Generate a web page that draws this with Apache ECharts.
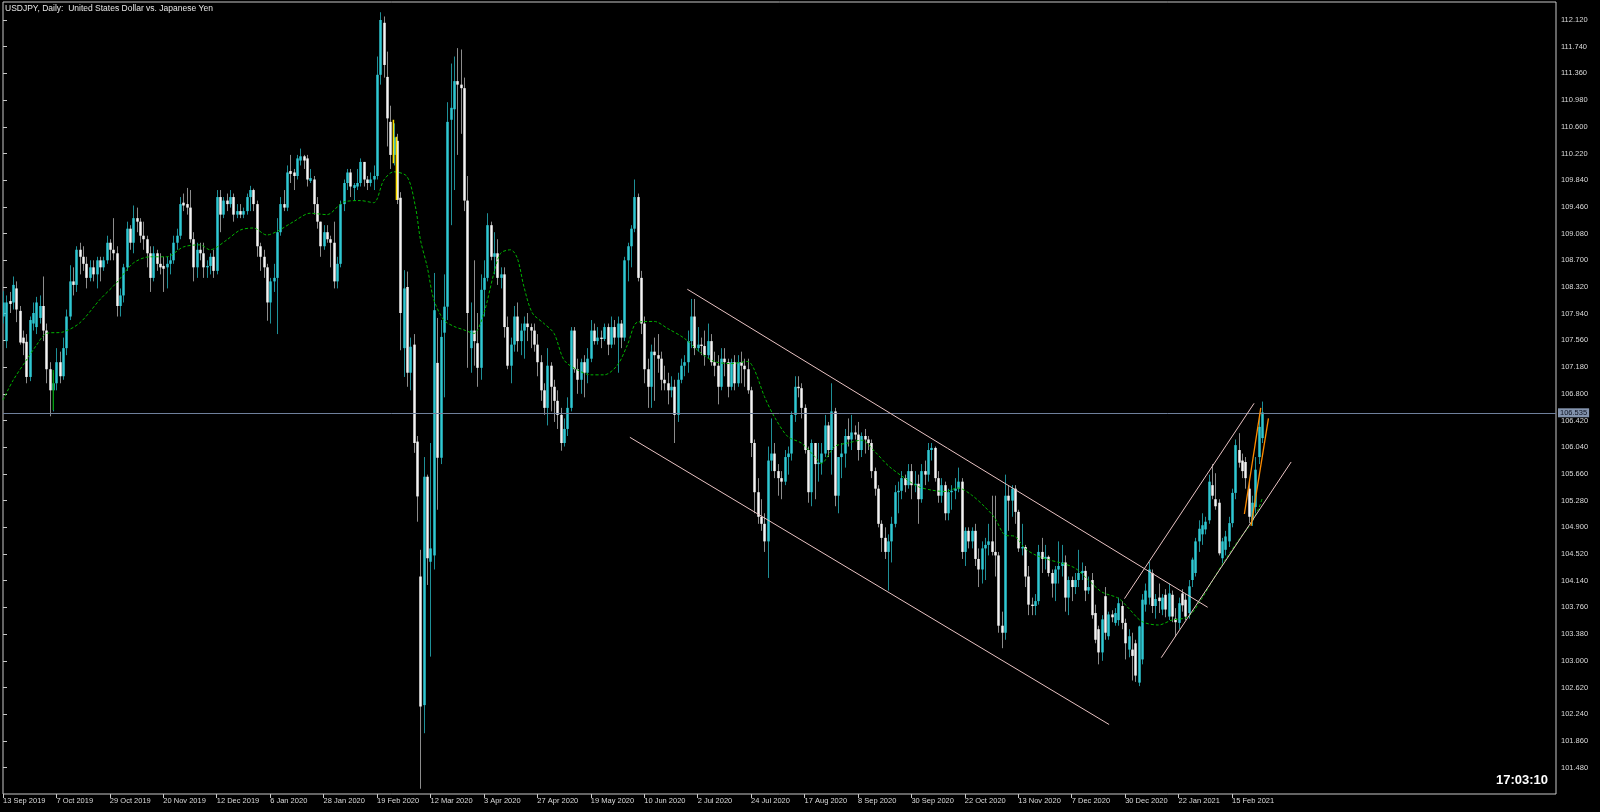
<!DOCTYPE html>
<html><head><meta charset="utf-8">
<script src="https://cdn.jsdelivr.net/npm/echarts@6/dist/echarts.min.js"></script>
<style>html,body{margin:0;padding:0;background:#000;}#c{width:1600px;height:812px;}</style>
</head><body><div id="c"></div>
<script>
// ---- data (daily USDJPY candles, 13 Sep 2019 .. 26 Feb 2021) ----
const opens = [
107.90,107.55,108.12,108.10,108.30,107.98,107.60,107.54,107.04,107.80,107.75,107.88,108.05,107.70,107.15,106.85,
106.95,107.25,107.05,107.45,107.90,108.40,108.35,108.85,108.75,108.65,108.45,108.60,108.50,108.70,108.60,108.70,
108.95,108.85,108.80,108.05,108.20,108.60,109.15,108.95,109.30,109.25,109.05,109.00,108.80,108.45,108.80,108.65,
108.62,108.60,108.65,108.70,108.95,109.05,109.52,109.50,109.45,109.00,108.60,108.85,108.80,108.60,108.62,108.75,
108.55,109.60,109.35,109.55,109.50,109.60,109.35,109.40,109.35,109.40,109.60,109.70,109.50,108.90,108.75,108.60,
108.10,108.40,108.45,109.10,109.50,109.45,109.97,109.95,109.90,110.12,110.18,110.15,109.83,109.85,109.50,109.25,
108.90,109.10,109.00,108.95,108.40,108.65,109.50,109.80,109.95,109.73,109.75,109.80,110.10,109.85,109.80,109.85,
109.90,111.34,112.08,111.31,110.67,110.20,110.40,109.59,107.45,108.32,107.10,107.50,106.12,104.20,102.37,105.62,
104.41,104.50,107.24,105.89,107.67,108.04,110.70,110.85,111.25,111.20,111.15,109.55,107.45,107.70,107.52,107.17,
108.28,108.45,109.20,108.75,108.80,108.45,108.50,107.75,107.20,107.50,107.90,107.55,107.70,107.80,107.75,107.70,
107.50,107.25,106.85,106.60,107.20,106.90,106.70,106.50,106.10,106.30,106.60,107.70,107.15,107.00,107.25,107.10,
107.30,107.70,107.55,107.60,107.58,107.75,107.50,107.75,107.60,107.80,107.60,108.70,108.90,109.15,109.60,108.45,
107.80,107.15,106.90,107.40,107.35,107.30,107.00,106.95,106.85,106.90,106.50,107.00,107.20,107.25,107.55,107.90,
107.45,107.50,107.48,107.35,107.55,107.25,107.20,106.90,107.30,107.25,106.90,107.25,106.95,107.25,107.20,107.15,
106.85,106.10,105.40,105.05,104.95,104.70,105.85,105.95,105.70,105.60,105.55,105.90,105.95,106.50,106.90,106.88,
106.60,106.00,105.40,106.10,105.80,105.82,105.95,106.35,106.00,106.55,105.35,105.90,105.95,106.20,106.15,106.25,
106.22,106.00,106.20,106.15,106.10,105.70,105.45,104.95,104.75,104.55,104.70,104.95,105.40,105.42,105.60,105.50,
105.70,105.50,105.52,105.30,105.70,105.65,106.00,106.03,105.60,105.35,105.50,105.10,105.40,105.42,105.45,105.55,
104.55,104.85,104.70,104.85,104.45,104.30,104.60,104.65,104.70,104.55,104.50,103.50,103.40,105.35,105.28,105.45,
105.12,104.60,104.62,104.20,103.80,103.78,103.85,104.55,104.45,104.48,104.25,104.10,104.30,104.35,104.40,103.90,
104.15,104.05,104.15,104.25,104.28,104.00,104.15,103.68,103.45,103.12,103.92,103.35,103.66,103.54,103.58,103.78,
103.54,103.16,103.16,103.25,102.69,103.02,103.80,103.90,104.25,103.78,103.90,103.73,103.94,103.63,103.94,103.60,
103.54,103.96,103.87,103.68,104.15,104.25,104.70,104.80,104.87,105.00,105.50,105.30,105.25,104.46,104.58,104.70,
104.96,105.39,106.00,105.85,105.83,105.45,105.00,105.19,105.90,106.17];
const highs = [
108.26,108.20,108.25,108.47,108.40,108.05,107.70,107.65,107.90,108.10,108.18,108.20,108.47,107.80,107.25,107.10,
107.45,107.40,107.60,108.00,108.63,108.60,108.90,108.95,108.90,108.75,108.70,108.70,108.75,108.75,108.75,109.05,
109.00,109.30,108.90,108.30,108.65,109.25,109.20,109.48,109.45,109.30,109.25,109.05,108.90,108.90,108.85,108.80,
108.75,108.75,108.80,109.05,109.15,109.60,109.65,109.73,109.70,109.10,108.95,108.95,108.95,108.70,108.80,108.85,
109.70,109.70,109.60,109.65,109.70,109.65,109.50,109.50,109.45,109.65,109.76,109.72,109.55,108.95,108.85,108.65,
108.45,108.65,109.30,109.60,109.70,110.05,110.20,110.00,110.20,110.29,110.20,110.20,110.00,109.90,109.60,109.25,
109.20,109.20,109.05,109.25,108.75,109.55,109.85,110.00,110.00,109.80,110.00,110.15,110.10,109.90,109.95,110.05,
111.60,112.23,112.17,111.67,110.90,110.65,110.50,109.67,108.56,108.54,107.60,107.65,106.20,104.58,105.90,105.65,
106.10,108.52,107.88,107.85,108.50,110.95,111.50,111.60,111.72,111.70,111.30,109.90,108.10,108.70,107.95,108.50,
108.70,109.37,109.25,109.10,109.00,108.60,108.60,107.90,107.60,108.05,108.10,107.80,107.90,107.95,107.80,107.80,
107.65,107.35,106.95,107.45,107.25,107.00,106.85,106.60,106.45,106.75,107.75,107.75,107.30,107.30,107.35,107.45,
107.85,107.80,107.75,107.70,107.80,107.80,107.90,107.85,107.90,107.85,108.75,108.95,109.20,109.85,109.65,108.55,
107.90,107.30,107.50,107.60,107.65,107.40,107.20,107.10,107.05,107.00,107.10,107.30,107.35,107.70,108.15,108.15,
107.75,107.60,107.70,107.80,107.65,107.40,107.35,107.45,107.45,107.30,107.30,107.35,107.35,107.40,107.30,107.30,
106.90,106.15,105.60,105.30,105.10,106.05,106.45,106.10,105.80,105.70,106.00,106.05,106.55,107.05,107.05,106.95,
106.65,106.05,106.15,106.10,106.10,106.10,106.50,106.40,106.95,106.60,105.90,106.10,106.30,106.45,106.50,106.35,
106.40,106.25,106.30,106.20,106.15,105.75,105.50,105.00,104.90,104.80,105.05,105.50,105.55,105.70,105.65,105.80,
105.80,105.70,105.65,105.80,105.85,106.10,106.10,106.05,105.70,105.60,105.55,105.45,105.50,105.60,105.75,105.60,
104.90,104.90,104.90,104.95,104.60,104.70,104.75,104.95,105.35,105.35,104.55,103.70,105.65,105.50,105.50,105.50,
105.15,104.95,104.65,104.35,103.90,103.95,104.65,104.75,104.65,104.50,104.30,104.35,104.70,104.65,104.50,104.20,
104.20,104.25,104.58,104.40,104.35,104.20,104.25,103.80,103.50,103.65,104.05,103.70,103.72,103.75,103.90,103.85,
103.60,103.45,103.40,103.30,103.50,103.95,104.10,104.41,104.30,103.95,104.10,103.95,104.02,104.10,104.00,103.75,
103.90,104.02,103.95,104.15,104.47,104.75,105.00,105.10,105.05,105.65,105.80,105.67,105.30,104.75,104.85,105.05,
105.45,106.15,106.24,105.95,105.90,105.55,105.35,105.90,106.50,106.69];
const lows = [
107.80,107.45,107.95,108.00,107.82,107.50,107.35,106.95,106.98,107.70,107.65,107.80,107.55,106.95,106.48,106.55,
106.85,106.95,107.00,107.35,107.85,108.20,108.25,108.50,108.55,108.30,108.40,108.40,108.30,108.40,108.55,108.65,
108.70,108.70,107.90,107.90,108.10,108.55,108.85,108.80,109.10,108.95,108.85,108.60,108.25,108.40,108.55,108.50,
108.25,108.30,108.50,108.65,108.85,109.00,109.40,109.35,108.95,108.40,108.45,108.70,108.45,108.45,108.50,108.45,
108.50,109.10,109.30,109.40,109.45,109.25,109.30,109.30,109.30,109.35,109.40,109.40,108.75,108.55,108.45,107.84,
107.80,108.25,107.65,109.05,109.40,109.40,109.80,109.70,109.85,110.05,110.00,109.75,109.80,109.35,109.15,108.75,
108.85,108.95,108.60,108.30,108.30,108.60,109.40,109.70,109.60,109.55,109.70,109.75,109.75,109.70,109.75,109.70,
109.85,111.20,111.30,110.32,110.00,110.05,109.50,107.42,107.04,106.90,106.85,105.96,104.98,101.18,101.97,104.08,
103.06,104.30,105.15,105.80,106.75,107.85,109.20,109.70,110.20,110.50,109.40,107.17,107.10,107.20,106.90,107.00,
107.90,108.40,108.70,108.50,108.35,108.30,107.60,107.15,106.95,107.40,107.40,107.35,107.30,107.55,107.45,107.40,
107.05,106.70,106.50,106.35,106.55,106.40,106.30,105.99,106.05,106.20,106.55,107.10,106.80,106.80,106.75,106.95,
107.25,107.50,107.50,107.45,107.55,107.35,107.45,107.50,107.10,107.45,107.55,108.40,108.60,109.10,108.40,107.65,
106.95,106.60,106.60,106.70,107.10,106.85,106.85,106.65,106.75,106.10,106.40,106.95,107.05,107.10,107.45,107.35,
107.40,107.35,107.20,107.30,107.20,107.05,106.65,106.85,107.05,106.75,106.85,106.85,106.90,106.95,106.90,106.80,
105.90,105.10,104.95,104.85,104.55,104.18,105.70,105.60,105.35,105.30,105.50,105.65,105.85,106.40,106.75,106.45,
105.95,105.25,105.20,105.30,105.55,105.65,105.90,105.90,105.65,105.20,105.10,105.60,105.75,106.05,106.00,106.15,
105.85,105.90,105.95,106.00,105.60,105.35,104.90,104.55,104.45,104.00,104.40,104.90,105.10,105.30,105.40,105.45,
105.30,105.40,104.95,105.25,105.50,105.55,105.85,105.55,105.25,105.25,105.00,105.00,105.15,105.30,105.40,104.45,
104.35,104.60,104.60,104.35,104.05,104.10,104.15,104.50,104.50,104.20,103.40,103.18,103.30,104.85,105.05,104.95,
104.55,104.50,104.05,103.65,103.65,103.65,103.80,104.25,104.30,104.20,103.90,103.85,104.10,104.20,103.70,103.65,
103.85,103.95,104.05,104.15,103.85,103.95,103.60,103.25,102.95,103.00,103.30,103.30,103.55,103.50,103.50,103.45,
103.02,103.05,102.72,102.70,102.64,102.95,103.70,103.80,103.68,103.60,103.68,103.65,103.62,103.58,103.55,103.34,
103.45,103.70,103.58,103.60,104.05,104.20,104.55,104.65,104.80,104.95,105.30,105.15,104.50,104.39,104.50,104.62,
104.90,105.30,105.75,105.60,105.45,104.96,104.92,105.10,105.80,106.10];
const closes = [
108.10,108.10,108.08,108.35,108.00,107.53,107.52,107.04,107.85,107.95,108.10,108.05,107.70,107.15,106.85,106.95,
107.25,107.05,107.45,107.90,108.40,108.35,108.85,108.75,108.65,108.45,108.60,108.50,108.70,108.60,108.70,108.95,
108.85,108.80,108.05,108.20,108.60,109.15,108.95,109.30,109.25,109.05,109.00,108.80,108.45,108.80,108.65,108.60,
108.58,108.65,108.70,108.95,109.05,109.50,109.48,109.45,109.00,108.60,108.85,108.80,108.60,108.62,108.75,108.55,
109.60,109.35,109.55,109.50,109.60,109.35,109.40,109.35,109.40,109.60,109.70,109.50,108.90,108.75,108.60,108.10,
108.40,108.45,109.10,109.50,109.45,109.95,109.93,109.90,110.15,110.18,110.12,109.85,109.87,109.50,109.25,108.90,
109.10,109.00,108.95,108.40,108.65,109.50,109.80,109.95,109.75,109.77,109.80,110.10,109.85,109.80,109.85,109.90,
111.34,112.12,111.48,110.72,110.20,110.45,109.56,107.95,108.30,107.10,107.47,106.10,105.34,102.35,105.62,104.46,
104.60,107.99,105.89,107.61,108.04,110.67,110.87,111.25,111.20,111.15,109.55,107.95,107.70,107.55,107.17,108.28,
108.45,109.20,108.75,108.80,108.45,108.50,107.75,107.20,107.50,107.90,107.55,107.70,107.80,107.75,107.70,107.50,
107.25,106.85,106.60,107.20,106.90,106.70,106.50,106.10,106.30,106.60,107.70,107.15,107.00,107.25,107.10,107.30,
107.70,107.55,107.60,107.58,107.75,107.50,107.75,107.60,107.80,107.60,108.70,108.90,109.15,109.60,108.45,107.80,
107.15,106.90,107.40,107.35,107.30,107.00,106.95,106.85,106.90,106.50,107.00,107.20,107.25,107.55,107.90,107.45,
107.50,107.48,107.35,107.55,107.25,107.20,106.90,107.30,107.25,106.90,107.25,106.95,107.25,107.20,107.15,106.85,
106.10,105.40,105.05,104.95,104.70,105.85,105.95,105.70,105.60,105.55,105.90,105.95,106.50,106.90,106.88,106.60,
106.00,105.40,106.10,105.80,105.82,105.95,106.35,106.00,106.55,105.35,105.90,105.95,106.20,106.15,106.25,106.22,
106.00,106.20,106.15,106.10,105.70,105.45,104.95,104.75,104.55,104.70,104.95,105.40,105.42,105.60,105.50,105.70,
105.50,105.52,105.30,105.70,105.65,106.00,106.03,105.60,105.35,105.50,105.10,105.40,105.42,105.45,105.55,104.55,
104.85,104.70,104.85,104.45,104.30,104.60,104.65,104.70,104.55,104.50,103.50,103.40,105.35,105.28,105.45,105.12,
104.60,104.62,104.20,103.80,103.78,103.85,104.55,104.45,104.48,104.25,104.10,104.30,104.35,104.40,103.90,104.15,
104.05,104.15,104.25,104.28,104.00,104.05,103.65,103.30,103.12,103.59,103.40,103.66,103.62,103.68,103.82,103.54,
103.25,103.35,103.07,102.79,103.49,103.87,104.00,104.30,103.78,103.88,103.85,103.90,103.73,103.96,103.63,103.55,
103.82,103.79,103.63,104.06,104.44,104.70,104.88,104.93,104.98,105.55,105.35,105.20,104.53,104.70,104.77,104.96,
105.39,106.07,105.82,105.70,105.60,105.05,105.25,105.72,106.33,106.535];

// moving average: [bar index, price]
const maPoints = [[0,106.71],[3,106.99],[7,107.28],[10,107.49],[13,107.66],[18,107.68],[23,107.81],[29,108.14],[34,108.38],[39,108.66],[44,108.75],[49,108.75],[54,108.89],[59,108.92],[62,108.85],[67,108.99],[71,109.13],[75,109.16],[79,109.06],[82,109.11],[87,109.25],[92,109.37],[97,109.35],[102,109.53],[107,109.55],[111,109.52],[114,109.84],[117,109.96],[121,109.89],[123.5,109.46],[125,108.99],[127,108.61],[129,108.14],[132,107.85],[135,107.76],[138,107.71],[141,107.66],[144,107.95],[147,108.52],[149,108.80],[152,108.85],[154,108.73],[156,108.32],[158.5,107.95],[162,107.80],[165,107.66],[168,107.28],[172,107.14],[176,107.07],[180,107.07],[184,107.21],[187,107.50],[190,107.82],[195,107.83],[199,107.73],[204,107.59],[209,107.38],[213,107.26],[218,107.23],[223,107.26],[225,107.14],[228,106.76],[231,106.47],[235,106.19],[239,106.10],[243,105.91],[245,105.81],[249,106.05],[253,106.10],[257,106.14],[261,105.98],[265,105.78],[270,105.60],[274,105.48],[278,105.43],[282,105.41],[286,105.46],[290,105.36],[294,105.19],[297,105.03],[300,104.79],[303,104.77],[306,104.60],[309,104.51],[313,104.44],[317,104.39],[321,104.32],[325,104.15],[329,103.98],[334,103.89],[337,103.75],[341,103.56],[346,103.51],[350,103.58],[354,103.61],[356,103.68],[359,103.89],[362,104.13],[366,104.44],[370,104.72],[373,104.91],[376,105.17],[377,105.31]];

// drawn objects, in [bar index, price]
const channelUpper = [[204.9,108.288],[360.7,103.762]];
const channelLower = [[187.7,106.181],[331.2,102.094]];
const risingUpper = [[335.8,103.885],[374.6,106.665]];
const risingLower = [[346.8,103.045],[385.7,105.83]];
const orangeA = [[371.7,105.09],[376.6,106.60]];
const orangeB = [[373.7,104.92],[378.9,106.45]];
const yellowA = [[116.9,110.70],[116.9,110.08]];
const yellowB = [[117.8,110.46],[117.8,109.56]];
const greenMark = [[15.05,107.14],[15.05,106.57]];

const currentPrice = 106.535;
const dateLabels = ['13 Sep 2019','7 Oct 2019','29 Oct 2019','20 Nov 2019','12 Dec 2019','6 Jan 2020','28 Jan 2020','19 Feb 2020','12 Mar 2020','3 Apr 2020','27 Apr 2020','19 May 2020','10 Jun 2020','2 Jul 2020','24 Jul 2020','17 Aug 2020','8 Sep 2020','30 Sep 2020','22 Oct 2020','13 Nov 2020','7 Dec 2020','30 Dec 2020','22 Jan 2021','15 Feb 2021'];
const barsPerLabel = 16;
const priceTicks = [101.48,101.86,102.24,102.62,103.00,103.38,103.76,104.14,104.52,104.90,105.28,105.66,106.04,106.42,106.80,107.18,107.56,107.94,108.32,108.70,109.08,109.46,109.84,110.22,110.60,110.98,111.36,111.74,112.12];

// ---- chart ----
const candleData = opens.map((o, i) => [i, o, closes[i], lows[i], highs[i]]);
const dateTickIdx = dateLabels.map((_, k) => k * barsPerLabel);
const FONT = 'Liberation Sans';
const FG = '#c8c8c8';

function renderCandle(params, api) {
  const i = api.value(0), o = api.value(1), c = api.value(2), l = api.value(3), h = api.value(4);
  const pO = api.coord([i, o]), pC = api.coord([i, c]);
  const yH = api.coord([i, h])[1], yL = api.coord([i, l])[1];
  const x = pO[0];
  const bull = c >= o;
  const top = Math.min(pO[1], pC[1]);
  const bh = Math.max(1, Math.abs(pO[1] - pC[1]));
  const w = 2.5;
  const wx = Math.round(x) + 0.5;
  return {
    type: 'group',
    children: [
      { type: 'line', shape: { x1: wx, y1: yH, x2: wx, y2: yL },
        style: { stroke: bull ? '#1e8f97' : '#8c8c8c', lineWidth: 1 } },
      { type: 'rect', shape: { x: wx - w / 2, y: top, width: w, height: bh },
        style: { fill: bull ? '#2fc8d3' : '#f4f4f4' } }
    ]
  };
}

function seg(data, color, width, z) {
  return { type: 'line', data: data, symbol: 'none', silent: true, z: z || 5,
    lineStyle: { color: color, width: width || 1 }, animation: false };
}

const chart = echarts.init(document.getElementById('c'), null, { renderer: 'canvas' });
chart.setOption({
  backgroundColor: '#000000',
  animation: false,
  title: {
    text: 'USDJPY, Daily:  United States Dollar vs. Japanese Yen',
    left: 5, top: 4, padding: 0,
    textStyle: { color: '#e6e6e6', fontSize: 8.5, fontWeight: 'normal', fontFamily: FONT }
  },
  grid: { left: 2, right: 44, top: 2, bottom: 18, show: true, borderColor: FG, borderWidth: 1 },
  xAxis: {
    type: 'value', min: 0, max: 465,
    axisLine: { show: false }, splitLine: { show: false },
    axisTick: { show: true, customValues: dateTickIdx, length: 4, lineStyle: { color: FG } },
    axisLabel: {
      customValues: dateTickIdx,
      formatter: v => dateLabels[Math.round(v / barsPerLabel)] || '',
      align: 'left', margin: 3, color: '#dadada', fontSize: 7.5, fontFamily: FONT
    }
  },
  yAxis: {
    type: 'value', position: 'right', min: 101.105, max: 112.376, scale: true,
    axisLine: { show: false }, splitLine: { show: false },
    axisTick: { show: true, customValues: priceTicks, length: 4, lineStyle: { color: FG } },
    axisLabel: {
      customValues: priceTicks, formatter: v => v.toFixed(3),
      margin: 5, color: '#dadada', fontSize: 7.5, fontFamily: FONT
    }
  },
  series: [
    {
      type: 'custom', name: 'USDJPY', renderItem: renderCandle, data: candleData,
      encode: { x: 0, y: [1, 2, 3, 4] }, clip: true, z: 2, silent: true,
      markLine: {
        silent: true, symbol: 'none', animation: false,
        lineStyle: { color: '#6f809c', width: 1, type: 'solid' },
        label: {
          show: true, position: 'end', distance: 2,
          formatter: () => currentPrice.toFixed(3),
          backgroundColor: '#8494ae', color: '#0c1220', padding: [1, 2, 0, 2],
          fontSize: 7.5, fontFamily: FONT
        },
        data: [{ yAxis: currentPrice }]
      }
    },
    {
      type: 'line', name: 'MA', data: maPoints, symbol: 'none', smooth: 0.3, silent: true, z: 4,
      lineStyle: { color: '#00b400', width: 1, type: [3, 2] }
    },
    seg(channelUpper, '#e9c3c3', 1, 6),
    seg(channelLower, '#e9c3c3', 1, 6),
    seg(risingUpper, '#e9c3c3', 1, 6),
    seg(risingLower, '#e9c3c3', 1, 6),
    seg(orangeA, '#ff8c00', 1.3, 7),
    seg(orangeB, '#ff8c00', 1.3, 7),
    seg(yellowA, '#ffe000', 1.5, 7),
    seg(yellowB, '#ffe000', 1.5, 7),
    seg(greenMark, '#00a000', 1.2, 7)
  ],
  graphic: [
    { type: 'text', right: 52, top: 774, z: 10,
      style: { text: '17:03:10', fill: '#ffffff', font: 'bold 13px "Liberation Sans"' } }
  ]
});
</script>
</body></html>
